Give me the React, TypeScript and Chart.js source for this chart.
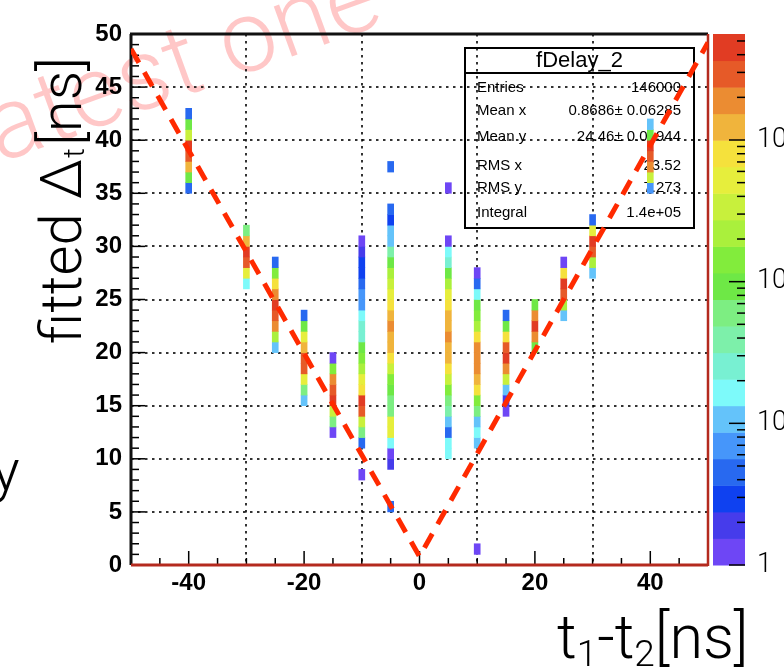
import React, { useEffect, useRef } from "react";
import { Chart, registerables } from "chart.js";
Chart.register(...registerables);

// ---------- data ----------
const xTicks = [-40, -20, 0, 20, 40];
const yTicks = [0, 5, 10, 15, 20, 25, 30, 35, 40, 45, 50];
const xRange = [-50, 50];
const yRange = [0, 50];
const colorTicks = [1, 10, 100, 1000];
const colorTickLabels = ["1", "10", "10²", "10³"];
const zMax = 5600;
const nContours = 20;
const palette = [
  "#6e46f5", "#463ceb", "#0f41f0", "#2869f0", "#4696fa",
  "#64c3fa", "#7dfafa", "#78f0d2", "#7df0aa", "#7dee82",
  "#6ee846", "#82ec3c", "#aaf03c", "#c8f03c", "#e6ee3c",
  "#f5e13c", "#f0b43c", "#eb8c32", "#e65a28", "#e13c23",
];

// columns of 1 ns x 1 ns cells: x position, first y bin, counts bottom-up
const columnX = [-40, -30, -25, -20, -15, -10, -5, 5, 10, 15, 20, 25, 30, 40];
const columnStart = [35, 26, 20, 15, 12, 11, 9, 10, 11, 14, 20, 23, 27, 35];
const colM40 = [5, 100, 1400, 3400, 5300, 380, 100, 5];
const colM30 = [17, 590, 3400, 5300, 1400, 65];
const colM25 = [11, 240, 2200, 3400, 5300, 2200, 910, 160, 5];
const colM20 = [11, 65, 590, 3400, 3400, 1400, 590, 100, 5];
const colM15 = [1, 65, 380, 5300, 3400, 2200, 160, 1];
const colM10 = [5, 65, 380, 3400, 5300, 910, 590, 240, 160, 100, 27, 27, 17, 7, 7, 5, 3, 3, 2, 1];
const colM5 = [2, 1, 17, 590, 590, 65, 65, 100, 160, 380, 910, 1400, 1400, 2200, 1400, 910, 590, 380, 240, 100, 42, 11, 11, 3, 5];
const colP5 = [17, 17, 5, 11, 42, 65, 160, 380, 910, 1400, 1400, 2200, 1400, 1400, 910, 590, 240, 100, 27, 17, 1];
const colP10 = [11, 17, 11, 65, 160, 910, 1400, 2200, 2200, 2200, 910, 240, 160, 100, 17, 5, 1];
const colP15 = [1, 2, 11, 380, 2200, 5300, 3400, 910, 100, 5];
const colP20 = [100, 2200, 5300, 2200, 100];
const colP25 = [11, 240, 3400, 5300, 910, 1];
const colP30 = [11, 240, 3400, 5300, 590, 5];
const colP40 = [7, 380, 2200, 3400, 5300, 100, 11];
const columnCounts = [colM40, colM30, colM25, colM20, colM15, colM10, colM5, colP5, colP10, colP15, colP20, colP25, colP30, colP40];

const isolatedX = [-10, -5, -5, 5, 10];
const isolatedY = [8, 5, 37, 35, 1];
const isolatedCounts = [1, 5, 5, 1, 1];

const fitLineX = [-50, 0, 50];
const fitLineY = [48.6, 0.8, 49.2];

const statsTitle = "fDelay_2";
const statsLabels = ["Entries", "Mean x", "Mean y", "RMS x", "RMS y", "Integral"];
const statsValues = ["146000", "0.8686± 0.06285", "24.46± 0.01944", "23.52", "7.273", "1.4e+05"];

// ---------- helpers ----------
const cells: { x: number; y: number; c: number }[] = [];
columnX.forEach((x, i) => {
  columnCounts[i].forEach((c, j) => cells.push({ x, y: columnStart[i] + j, c }));
});
isolatedX.forEach((x, i) => cells.push({ x, y: isolatedY[i], c: isolatedCounts[i] }));

function colorFor(c: number) {
  const idx = Math.floor((Math.log10(c) / Math.log10(zMax)) * nContours);
  return palette[Math.max(0, Math.min(nContours - 1, idx))];
}

const LIGHT = '"Roboto", "Liberation Sans", Arial, sans-serif';
const ARIAL = '"Liberation Sans", Arial, sans-serif';

function line(ctx: CanvasRenderingContext2D, x1: number, y1: number, x2: number, y2: number) {
  ctx.beginPath();
  ctx.moveTo(x1, y1);
  ctx.lineTo(x2, y2);
  ctx.stroke();
}

function zeroPad(s: any) {
  s.paddingTop = 0;
  s.paddingBottom = 0;
  s.paddingLeft = 0;
  s.paddingRight = 0;
}

const rootPlugin = {
  id: "rootDecor",
  beforeDraw(chart: any) {
    const ctx: CanvasRenderingContext2D = chart.ctx;
    ctx.save();
    ctx.fillStyle = "#fff";
    ctx.fillRect(0, 0, chart.width, chart.height);
    // watermark
    ctx.translate(-22, 171);
    ctx.rotate((-20 * Math.PI) / 180);
    ctx.font = `300 101px ${LIGHT}`;
    ctx.fillStyle = "rgba(255,0,0,0.22)";
    ctx.textAlign = "left";
    ctx.textBaseline = "alphabetic";
    ctx.fillText("latest one", 0, 0);
    ctx.restore();
  },
  beforeDatasetsDraw(chart: any) {
    const ctx: CanvasRenderingContext2D = chart.ctx;
    const a = chart.chartArea;
    const sx = chart.scales.x;
    const sy = chart.scales.y;
    ctx.save();
    ctx.strokeStyle = "#000";
    ctx.lineWidth = 1.5;
    // inward ticks on y
    for (let v = yRange[0]; v <= yRange[1]; v++) {
      const len = v % 5 === 0 ? 14 : 8;
      const py = sy.getPixelForValue(v);
      line(ctx, a.left, py, a.left + len, py);
    }
    // inward ticks on x
    for (let v = xRange[0]; v <= xRange[1]; v += 5) {
      const len = v % 20 === 0 ? 14 : 7;
      const px = sx.getPixelForValue(v);
      line(ctx, px, a.bottom, px, a.bottom - len);
    }
    // frame
    ctx.lineWidth = 3;
    ctx.strokeStyle = "#111";
    line(ctx, a.left - 1, a.top, a.right, a.top);
    line(ctx, a.left, a.top, a.left, a.bottom);
    ctx.strokeStyle = "#b42a1e";
    ctx.lineWidth = 2.5;
    line(ctx, a.right, a.top, a.right, a.bottom + 1);
    ctx.lineWidth = 3;
    line(ctx, a.left, a.bottom, a.right, a.bottom);

    // stats box
    const bx = 465, by = 48, bw = 229, bh = 180;
    ctx.strokeStyle = "#000";
    ctx.lineWidth = 2;
    ctx.strokeRect(bx, by, bw, bh);
    line(ctx, bx, by + 25, bx + bw, by + 25);
    ctx.fillStyle = "#000";
    ctx.font = `22px ${ARIAL}`;
    ctx.textAlign = "center";
    ctx.textBaseline = "middle";
    ctx.fillText(statsTitle, bx + bw / 2, by + 13);
    ctx.font = `15px ${ARIAL}`;
    const rowY = [88, 111, 137, 166, 188, 213];
    statsLabels.forEach((lab, i) => {
      ctx.textAlign = "left";
      ctx.fillText(lab, bx + 12, rowY[i]);
      ctx.textAlign = "right";
      ctx.fillText(statsValues[i], bx + bw - 13, rowY[i]);
    });
    ctx.restore();
  },
  afterDraw(chart: any) {
    const ctx: CanvasRenderingContext2D = chart.ctx;
    const sc = chart.scales.c;
    ctx.save();
    // colour bar
    const cx0 = 713, cx1 = 745;
    const L = Math.log10(zMax);
    for (let i = 0; i < nContours; i++) {
      const lo = Math.pow(10, (i * L) / nContours);
      const hi = Math.pow(10, ((i + 1) * L) / nContours);
      const p0 = sc.getPixelForValue(lo);
      const p1 = sc.getPixelForValue(hi);
      ctx.fillStyle = palette[i];
      ctx.fillRect(cx0, p1, cx1 - cx0, p0 - p1 + 0.5);
    }
    ctx.strokeStyle = "#000";
    ctx.lineWidth = 1.5;
    for (let d = 1; d <= 1000; d *= 10) {
      for (let m = 1; m <= 9; m++) {
        const v = d * m;
        if (v > zMax) break;
        const p = sc.getPixelForValue(v);
        const len = m === 1 ? 16 : 8;
        line(ctx, cx1, p, cx1 - len, p);
      }
    }
    // y title (rotated)
    ctx.save();
    ctx.translate(81, 57);
    ctx.rotate(-Math.PI / 2);
    const big = `300 58px ${LIGHT}`;
    const small = `300 30px ${LIGHT}`;
    ctx.font = big;
    const w1 = ctx.measureText("fitted Δ").width;
    const w3 = ctx.measureText("[ns]").width;
    ctx.font = small;
    const w2 = ctx.measureText("t").width;
    const W = w1 + w2 + w3 + 3;
    ctx.fillStyle = "#000";
    ctx.textAlign = "left";
    ctx.textBaseline = "alphabetic";
    let x = -W;
    ctx.font = big;
    ctx.fillText("fitted Δ", x, 0);
    x += w1 + 1;
    ctx.font = small;
    ctx.fillText("t", x, 3);
    x += w2 + 2;
    ctx.font = big;
    ctx.fillText("[ns]", x, 0);
    ctx.restore();

    // x title
    const segs: [string, number, number][] = [
      ["t", 61, 0], ["1", 37, 8], ["-", 61, 0], ["t", 61, 0], ["2", 37, 8], ["[ns]", 61, 0],
    ];
    let tx = 557;
    const baseY = 658;
    ctx.fillStyle = "#000";
    ctx.textAlign = "left";
    ctx.textBaseline = "alphabetic";
    segs.forEach(([s, size, dy]) => {
      ctx.font = `300 ${size}px ${LIGHT}`;
      ctx.fillText(s, tx, baseY + dy);
      tx += ctx.measureText(s).width;
    });

    // stray letter at the left edge
    ctx.font = `300 58px ${LIGHT}`;
    ctx.fillText("y", -8, 490);
    ctx.restore();
  },
};

export default function App() {
  const ref = useRef<HTMLCanvasElement | null>(null);
  useEffect(() => {
    if (!ref.current) return;
    const gridOpts = { color: "rgba(0,0,0,0.8)", lineWidth: 2, drawTicks: false };
    const chart = new Chart(ref.current, {
      type: "bar",
      data: {
        datasets: [
          {
            type: "line",
            data: fitLineX.map((x, i) => ({ x, y: fitLineY[i] })),
            borderColor: "#ff2a00",
            borderWidth: 5,
            borderDash: [16, 11],
            borderCapStyle: "butt",
            pointRadius: 0,
            fill: false,
            tension: 0,
            order: 0,
            xAxisID: "x",
            yAxisID: "y",
          } as any,
          {
            type: "bar",
            data: cells.map((c) => ({ x: c.x, y: [c.y, c.y + 1] })),
            backgroundColor: cells.map((c) => colorFor(c.c)),
            barThickness: 6,
            borderWidth: 0,
            grouped: false,
            order: 1,
            xAxisID: "x",
            yAxisID: "y",
          } as any,
        ],
      },
      options: {
        responsive: false,
        animation: false,
        events: [],
        layout: { padding: { left: 91, top: 34, right: 0, bottom: 65 } },
        plugins: { legend: { display: false }, tooltip: { enabled: false } },
        scales: {
          x: {
            type: "linear",
            min: xRange[0],
            max: xRange[1],
            offset: false,
            afterBuildTicks: (s: any) => { s.ticks = xTicks.map((v) => ({ value: v })); },
            afterFit: (s: any) => { s.height = 40; zeroPad(s); },
            grid: gridOpts,
            border: { display: false, dash: [2.5, 4.5] },
            ticks: {
              font: { family: ARIAL, size: 24, weight: "bold" },
              color: "#000",
              padding: 4,
              maxRotation: 0,
              autoSkip: false,
            },
          },
          y: {
            type: "linear",
            min: yRange[0],
            max: yRange[1],
            afterBuildTicks: (s: any) => { s.ticks = yTicks.map((v) => ({ value: v })); },
            afterFit: (s: any) => { s.width = 40; zeroPad(s); },
            grid: gridOpts,
            border: { display: false, dash: [2.5, 4.5] },
            ticks: {
              font: { family: ARIAL, size: 24, weight: "bold" },
              color: "#000",
              padding: 9,
              autoSkip: false,
            },
          },
          c: {
            type: "logarithmic",
            position: "right",
            min: 1,
            max: zMax,
            afterBuildTicks: (s: any) => { s.ticks = colorTicks.map((v) => ({ value: v })); },
            afterFit: (s: any) => { s.width = 76; zeroPad(s); },
            grid: { display: false, drawTicks: false },
            border: { display: false },
            ticks: {
              callback: (_v: any, i: number) => colorTickLabels[i],
              font: { family: LIGHT, size: 27, weight: "300" },
              color: "#000",
              padding: 49,
              autoSkip: false,
            },
          },
        },
      } as any,
      plugins: [rootPlugin],
    });
    return () => chart.destroy();
  }, []);
  return (
    <div style={{ position: "absolute", left: 0, top: 0, width: 784, height: 670 }}>
      <canvas ref={ref} width={784} height={670} style={{ display: "block" }} />
    </div>
  );
}
